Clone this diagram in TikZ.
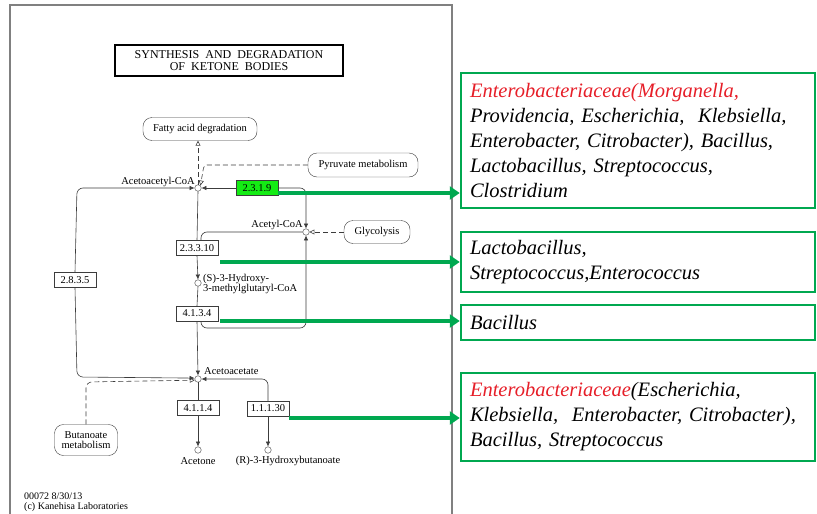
\documentclass[tikz,border=0pt]{standalone}
\usepackage{fontspec}
\setmainfont{Liberation Serif}
\usetikzlibrary{arrows.meta,calc}
\definecolor{kgreen}{RGB}{0,168,80}
\definecolor{ecgreen}{RGB}{20,235,20}
\definecolor{kred}{RGB}{230,30,40}
\definecolor{kline}{RGB}{60,60,60}
\begin{document}
\begin{tikzpicture}[x=1pt,y=-1pt,
  ec/.style={draw=kline, fill=white, minimum width=42pt, minimum height=15pt, inner sep=0pt, font=\fontsize{10.5}{10}\selectfont},
  mapbox/.style={draw=kline, rounded corners=9pt, inner sep=1pt, align=center, font=\fontsize{10.5}{11}\selectfont},
  cpd/.style={draw=kline, circle, minimum size=6.5pt, inner sep=0pt, fill=white},
  lbl/.style={inner sep=0pt, align=left, font=\fontsize{10.5}{10}\selectfont},
  kl/.style={draw=kline, line width=0.6pt},
  ar/.style={-{Latex[length=5pt,width=4.5pt]}},
  oar/.style={-{Triangle[open,length=5pt,width=5pt]}},
  dsh/.style={dash pattern=on 5pt off 3pt},
  grn/.style={draw=kgreen, line width=4pt, -{Triangle[length=10pt,width=13pt]}},
  gbox/.style={draw=kgreen, line width=2.5pt, minimum width=354pt, inner xsep=9pt, inner ysep=0pt, text width=336pt, align=left, font=\fontsize{20.5}{25}\selectfont\itshape}
]
\useasboundingbox (0,0) rectangle (817,514);
% frame
\draw[gray, line width=1.3pt] (10,520) -- (10,5) -- (452,5) -- (452,520);
% title
\node[draw, line width=1.6pt, minimum width=228pt, minimum height=31pt, inner sep=0pt, align=center, font=\fontsize{12}{11.5}\selectfont] (title) at (229,60.5) {SYNTHESIS\ \ AND\ \ DEGRADATION\\OF\ \ KETONE\ \ BODIES};
% maps
\node[mapbox, minimum width=114pt, minimum height=23pt] (fa) at (200,129) {Fatty acid degradation};
\node[mapbox, minimum width=110pt, minimum height=24pt] (pm) at (363,165) {Pyruvate metabolism};
\node[mapbox, minimum width=66pt, minimum height=23pt] (gl) at (377,232) {Glycolysis};
\node[mapbox, minimum width=63pt, minimum height=31pt, font=\fontsize{10.5}{10.5}\selectfont] (bm) at (86,440) {Butanoate\\metabolism};
% compounds
\node[cpd] (aac) at (198,188) {};
\node[cpd] (acc) at (306,232) {};
\node[cpd] (hmg) at (198,283) {};
\node[cpd] (aca) at (198,379) {};
\node[cpd] (ace) at (198,450) {};
\node[cpd] (rhb) at (268,450) {};
% compound labels
\node[lbl, anchor=east] (laac) at (195,182) {Acetoacetyl-CoA};
\node[lbl, anchor=east] (lacc) at (303,225) {Acetyl-CoA};
\node[lbl, anchor=west] (lhmg) at (203,284) {(S)-3-Hydroxy-\\3-methylglutaryl-CoA};
\node[lbl, anchor=west] (laca) at (204,371) {Acetoacetate};
\node[lbl] (lace) at (198,461) {Acetone};
\node[lbl] (lrhb) at (288,461) {(R)-3-Hydroxybutanoate};
% enzymes
\node[ec, fill=ecgreen] (e2319) at (257,188) {2.3.1.9};
\node[ec] (e23310) at (197,248) {2.3.3.10};
\node[ec] (e4134) at (197,313.5) {4.1.3.4};
\node[ec] (e2835) at (75,280) {2.8.3.5};
\node[ec] (e4114) at (198,408) {4.1.1.4};
\node[ec] (e11130) at (268,408.5) {1.1.1.30};
% footer
\node[lbl, anchor=north west, font=\fontsize{10}{10}\selectfont] (foot) at (24,493) {00072 8/30/13\\(c) Kanehisa Laboratories};
% helper coordinates
\coordinate (pmc) at (204,165);
\coordinate (j1) at (201,232);
\coordinate (j2) at (306,328);
\coordinate (lt) at (77,188);
\coordinate (lb) at (77,377);
\coordinate (bmc) at (86,382);
% KEGG connectors
\draw[kl, dsh, oar] (aac.north) -- (aac.north |- fa.south);
\draw[kl, dsh, rounded corners=3pt, oar] (pm.west) -- (pmc) -- (aac.north east);
\draw[kl, ar] (e2319.west) -- (aac.east);
\draw[kl, ar, rounded corners=6pt] (e2319.east) -| (acc.north);
\draw[kl, dsh, oar] (gl.west) -- (acc.east);
\draw[kl, rounded corners=6pt] (acc.west) -- (j1) -- ($(e23310.north)+(4,0)$);
\draw[kl, ar, rounded corners=6pt] ($(e4134.south)+(4,0)$) |- (j2) -- (acc.south);
\draw[kl] (aac.south) -- (e23310.north);
\draw[kl, ar] (e23310.south) -- (hmg.north);
\draw[kl] (hmg.south) -- (e4134.north);
\draw[kl, ar] (e4134.south) -- (aca.north);
\draw[kl, {Latex[length=5pt,width=4.5pt]}-, rounded corners=6pt] (aac.west) -- (lt) -- (e2835.north);
\draw[kl, ar, rounded corners=6pt] (e2835.south) -- (lb) -- (aca.165);
\draw[kl, dsh, oar, rounded corners=6pt] (bm.north) -- (bmc) -- (aca.200);
\draw[kl, ar, rounded corners=6pt] (e11130.north) |- (aca.east);
\draw[kl, ar] (e11130.south) -- (rhb.north);
\draw[kl] (aca.south) -- (e4114.north);
\draw[kl, ar] (e4114.south) -- (ace.north);
% green boxes
\node[gbox, minimum height=135pt] (gb1) at (638,140.5) {\textcolor{kred}{Enterobacteriaceae(Morganella,}\\Providencia, Escherichia,\ \ Klebsiella,\\Enterobacter, Citrobacter), Bacillus,\\Lactobacillus, Streptococcus,\\Clostridium};
\node[gbox, minimum height=60pt] (gb2) at (638,262) {Lactobacillus,\\Streptococcus,Enterococcus};
\node[gbox, minimum height=35pt] (gb3) at (638,322.5) {Bacillus};
\node[gbox, minimum height=88pt] (gb4) at (638,417) {\textcolor{kred}{Enterobacteriaceae}(Escherichia,\\Klebsiella,\ \ Enterobacter, Citrobacter),\\Bacillus,\ Streptococcus};
% green arrows
\coordinate (g1) at (278,193);
\coordinate (g2) at (220,262);
\coordinate (g3) at (220,321);
\coordinate (g4) at (289,418);
\draw[grn] (g1) -- (g1 -| gb1.west);
\draw[grn] (g2) -- (g2 -| gb2.west);
\draw[grn] (g3) -- (g3 -| gb3.west);
\draw[grn] (g4) -- (g4 -| gb4.west);
\end{tikzpicture}
\end{document}
